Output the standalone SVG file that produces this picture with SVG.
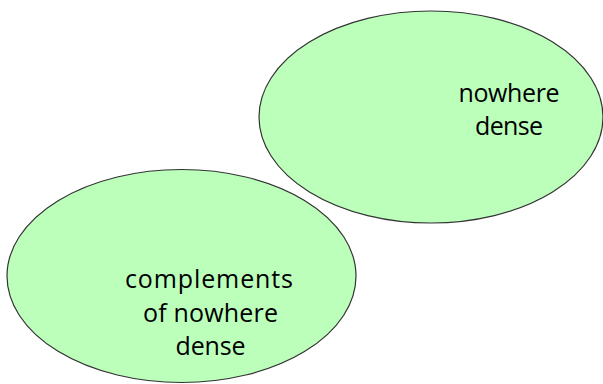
<svg xmlns="http://www.w3.org/2000/svg" width="603" height="384" viewBox="0 0 603 384">
  <style>
    .set { fill: #bbffbb; stroke: #333333; stroke-width: 1.2; }
    .label { font-family: "Open Sans", "DejaVu Sans", sans-serif; font-size: 25px; fill: #000000; text-anchor: middle; }
  </style>
  <rect width="603" height="384" fill="#ffffff"/>
  <g id="nowhere-dense">
    <ellipse class="set" cx="431" cy="117" rx="172" ry="106"/>
    <text class="label" x="509" y="102" textLength="101" lengthAdjust="spacing">nowhere</text>
    <text class="label" x="509" y="135" textLength="68" lengthAdjust="spacing">dense</text>
  </g>
  <g id="complements">
    <ellipse class="set" cx="181.5" cy="276" rx="174.5" ry="106.5"/>
    <text class="label" x="209" y="288" textLength="168" lengthAdjust="spacing">complements</text>
    <text class="label" x="210.5" y="322" textLength="135" lengthAdjust="spacing">of nowhere</text>
    <text class="label" x="210.5" y="355" textLength="70" lengthAdjust="spacing">dense</text>
  </g>
  <g id="connectors"/>
</svg>
